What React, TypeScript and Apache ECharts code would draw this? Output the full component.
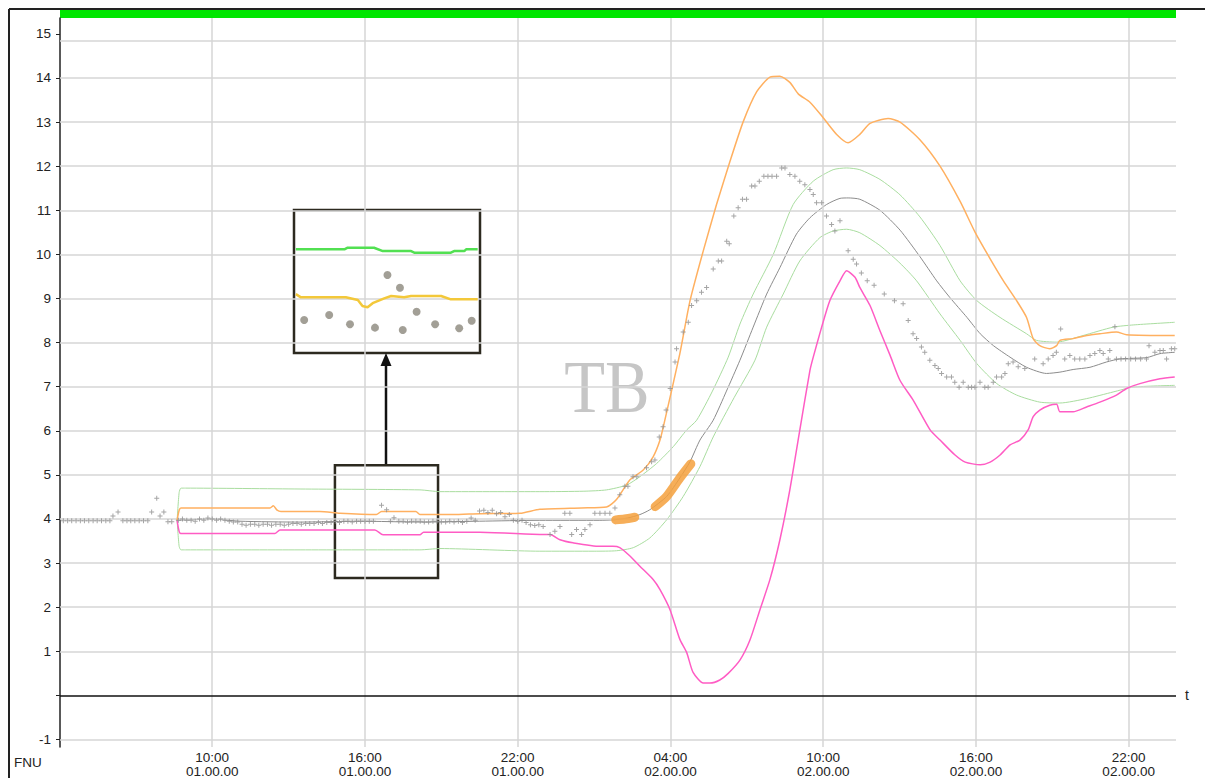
import React, { useEffect, useRef } from "react";
import * as echarts from "echarts";

// ---------- axes ----------
const X_MIN = 4.02; // hours since 00:00 of day 01
const X_MAX = 47.86;
const Y_MIN = -1.17;
const Y_MAX = 15.36;
const xTickHours = [10, 16, 22, 28, 34, 40, 46];
const yLabelValues = [-1, 1, 2, 3, 4, 5, 6, 7, 8, 9, 10, 11, 12, 13, 14, 15];
const yTickValues = [-1, 0, 1, 2, 3, 4, 5, 6, 7, 8, 9, 10, 11, 12, 13, 14, 15];
const yGridValues = [-1, 1, 2, 3, 4, 5, 6, 7, 8, 9, 10, 11, 12, 13, 14, 14.85];

// ---------- measured turbidity (dots) ----------
const dotsBefore: [number, number][] = [
  [4.15, 3.96], [4.32, 3.96], [4.48, 3.96], [4.65, 3.96], [4.82, 3.96], [4.98, 3.96],
  [5.15, 3.96], [5.32, 3.96], [5.48, 3.96], [5.65, 3.96], [5.82, 3.96], [5.98, 3.96],
  [6.1, 4.07], [6.3, 4.16], [6.49, 3.96], [6.65, 3.96], [6.8, 3.96], [6.96, 3.96],
  [7.13, 3.96], [7.3, 3.96], [7.47, 3.96], [7.62, 4.16], [7.82, 4.47], [7.95, 4.07],
  [8.1, 4.16], [8.26, 3.94], [8.41, 3.94],
];
const dotsNight: [number, number][] = [
  [8.67, 3.97], [8.83, 4.0], [9.0, 3.97], [9.17, 3.97], [9.33, 3.95], [9.5, 4.0],
  [9.67, 3.97], [9.83, 4.02], [10.0, 4.0], [10.17, 3.97], [10.33, 4.0], [10.5, 3.97],
  [10.67, 3.95], [10.83, 3.93], [11.0, 3.93], [11.17, 3.88], [11.33, 3.86], [11.5, 3.88],
  [11.67, 3.88], [11.83, 3.86], [12.0, 3.88], [12.17, 3.88], [12.33, 3.86], [12.5, 3.88],
  [12.67, 3.88], [12.83, 3.86], [13.0, 3.88], [13.17, 3.9], [13.33, 3.9], [13.5, 3.88],
  [13.67, 3.9], [13.83, 3.9], [14.0, 3.9], [14.17, 3.92], [14.33, 3.9], [14.5, 3.92],
  [14.67, 3.92], [14.83, 3.95], [15.0, 3.92], [15.17, 3.95], [15.33, 3.95], [15.5, 3.93],
  [15.67, 3.95], [15.83, 3.95], [16.0, 3.95], [16.17, 3.95], [16.33, 3.95], [16.65, 4.31],
  [16.85, 4.21], [17.0, 3.95], [17.14, 4.03], [17.33, 3.95], [17.5, 3.95], [17.67, 3.93],
  [17.83, 3.95], [18.0, 3.95], [18.17, 3.95], [18.33, 3.93], [18.5, 3.93], [18.67, 3.95],
  [18.83, 3.95], [19.0, 3.93], [19.17, 3.93], [19.33, 3.95], [19.5, 3.93], [19.67, 3.95],
  [19.83, 3.92], [20.0, 3.95], [20.17, 4.02], [20.33, 3.97], [20.5, 4.18], [20.67, 4.2],
  [20.83, 4.15], [21.0, 4.2], [21.17, 4.12], [21.33, 4.15], [21.5, 4.05], [21.67, 4.1],
  [21.83, 3.97], [22.0, 3.95], [22.17, 3.97], [22.33, 3.92], [22.5, 3.87], [22.67, 3.85],
  [22.83, 3.87],
];
const dotsEvent: [number, number][] = [
  [23.0, 3.83], [23.27, 3.65], [23.46, 3.72], [23.66, 3.83], [23.85, 4.13], [24.05, 4.13],
  [24.12, 3.65], [24.31, 3.76], [24.51, 3.65], [24.64, 3.76], [24.84, 3.87], [25.03, 4.13],
  [25.23, 4.13], [25.43, 4.13], [25.62, 4.13], [25.82, 4.25], [26.01, 4.55], [26.21, 4.74],
  [26.33, 4.74], [26.53, 4.96], [26.68, 4.96], [27.06, 5.16], [27.26, 5.3], [27.39, 5.34],
  [27.56, 5.86], [27.71, 6.09], [27.83, 6.47], [27.99, 6.96], [28.18, 7.56], [28.24, 7.86],
  [28.5, 8.24], [28.7, 8.46], [28.83, 8.84], [29.03, 8.95], [29.22, 9.14], [29.42, 9.25],
  [29.68, 9.67], [29.88, 9.85], [30.01, 9.85], [30.21, 10.3], [30.31, 10.24], [30.49, 10.87],
  [30.66, 11.06], [30.83, 11.25], [30.99, 11.25], [31.19, 11.55], [31.32, 11.55], [31.49, 11.66],
  [31.67, 11.77], [31.83, 11.77], [31.99, 11.77], [32.17, 11.77], [32.37, 11.96], [32.5, 11.96],
  [32.69, 11.81], [32.89, 11.77], [33.08, 11.66], [33.28, 11.58], [33.48, 11.47], [33.61, 11.36],
  [33.74, 11.17], [33.94, 11.17], [34.13, 10.87], [34.33, 10.68], [34.46, 10.53], [34.66, 10.76],
  [34.98, 10.08], [35.18, 9.89], [35.31, 9.78], [35.5, 9.58], [35.73, 9.4], [36.0, 9.3],
  [36.4, 9.1], [36.8, 8.95], [37.14, 8.88], [37.34, 8.5], [37.53, 8.2], [37.67, 8.09],
  [37.86, 7.9], [37.99, 7.78], [38.19, 7.6], [38.39, 7.48], [38.52, 7.41], [38.65, 7.3],
  [38.85, 7.22], [39.04, 7.22], [39.17, 7.1], [39.34, 6.99], [39.5, 7.1], [39.7, 6.99],
  [39.83, 6.99], [39.96, 6.99], [40.16, 7.1], [40.35, 6.99], [40.48, 6.99], [40.68, 7.1],
  [40.81, 7.22], [41.01, 7.22], [41.14, 7.3], [41.27, 7.52], [41.46, 7.56], [41.66, 7.45],
  [41.92, 7.41], [42.31, 7.63], [42.64, 7.52], [42.84, 7.63], [43.03, 7.71], [43.16, 7.78],
  [43.33, 8.31], [43.49, 7.63], [43.69, 7.71], [43.88, 7.63], [44.08, 7.63], [44.28, 7.63],
  [44.48, 7.71], [44.67, 7.75], [44.87, 7.82], [45.0, 7.75], [45.2, 7.63], [45.26, 7.82],
  [45.46, 8.36], [45.52, 7.63], [45.7, 7.63], [45.88, 7.63], [46.08, 7.63], [46.27, 7.63],
  [46.47, 7.63], [46.7, 7.63], [46.8, 7.93], [47.03, 7.78], [47.23, 7.82], [47.36, 7.82],
  [47.49, 7.63], [47.68, 7.86], [47.81, 7.86],
];

// ---------- model and bands ----------
const modelLine: [number, number][] = [
  [8.62, 3.97], [9.99, 4.0], [11.09, 3.95], [13.45, 3.93], [15.81, 3.95], [18.16, 3.93],
  [20.51, 3.95], [22.87, 3.97], [25.2, 3.97], [25.74, 3.98], [26.3, 4.02], [26.8, 4.1],
  [27.19, 4.21], [27.85, 4.51], [28.37, 4.93], [28.77, 5.3], [29.16, 5.79], [29.68, 6.24],
  [30.2, 6.9], [30.73, 7.6], [31.25, 8.35], [31.78, 9.1], [32.3, 9.7], [32.95, 10.46],
  [33.48, 10.83], [34.13, 11.13], [34.66, 11.27], [34.98, 11.28], [35.44, 11.25], [36.23, 11.0],
  [37.02, 10.55], [37.8, 9.95], [38.46, 9.4], [38.98, 9.02], [39.65, 8.57], [40.17, 8.2],
  [40.69, 7.93], [41.34, 7.67], [41.99, 7.44], [42.77, 7.3], [43.3, 7.33], [43.82, 7.39],
  [44.48, 7.44], [45.13, 7.56], [45.65, 7.63], [46.71, 7.66], [47.23, 7.75], [47.81, 7.78],
];
const upperBand: [number, number][] = [
  [8.62, 3.97], [8.7, 4.6], [8.77, 4.7], [8.95, 4.7], [13.45, 4.68], [18.16, 4.66],
  [18.94, 4.62], [22.87, 4.62], [24.6, 4.63], [25.49, 4.66], [26.28, 4.77], [26.8, 4.96],
  [27.46, 5.26], [28.11, 5.64], [28.64, 6.02], [29.03, 6.24], [29.65, 6.9], [30.27, 7.67],
  [30.73, 8.42], [31.25, 9.1], [32.04, 10.0], [32.82, 11.13], [33.61, 11.66], [34.39, 11.92],
  [34.92, 11.96], [35.44, 11.92], [36.23, 11.7], [37.02, 11.35], [37.8, 10.85], [38.59, 10.2],
  [39.38, 9.4], [40.04, 8.95], [40.95, 8.57], [41.99, 8.2], [42.38, 8.05], [43.17, 8.01],
  [44.21, 8.16], [45.39, 8.35], [46.18, 8.4], [47.81, 8.46],
];
const lowerBand: [number, number][] = [
  [8.62, 3.97], [8.7, 3.38], [8.77, 3.3], [8.95, 3.3], [13.45, 3.3], [18.16, 3.3],
  [18.94, 3.33], [22.87, 3.27], [25.0, 3.27], [25.88, 3.28], [26.54, 3.35], [27.19, 3.57],
  [27.85, 3.98], [28.5, 4.51], [29.16, 5.19], [29.68, 5.86], [30.5, 6.75], [31.32, 7.6],
  [31.78, 8.35], [32.43, 9.1], [33.08, 9.85], [33.87, 10.38], [34.39, 10.53], [34.92, 10.57],
  [35.44, 10.49], [36.23, 10.2], [37.02, 9.8], [37.67, 9.4], [38.59, 8.65], [39.38, 8.05],
  [40.04, 7.52], [40.82, 7.07], [41.6, 6.81], [42.51, 6.65], [43.3, 6.63], [44.35, 6.73],
  [45.39, 6.88], [46.18, 6.99], [47.81, 7.03],
];
const upperLimit: [number, number][] = [
  [8.62, 3.97], [8.7, 4.2], [8.77, 4.25], [8.95, 4.25], [12.27, 4.25], [12.4, 4.3],
  [12.55, 4.2], [12.7, 4.17], [14.23, 4.17], [15.02, 4.13], [16.45, 4.1], [16.65, 4.17],
  [18.0, 4.17], [18.16, 4.1], [19.46, 4.1], [20.51, 4.12], [22.09, 4.13], [22.87, 4.22],
  [24.5, 4.25], [25.49, 4.27], [25.88, 4.44], [26.41, 4.89], [26.93, 5.11], [27.32, 5.41],
  [27.59, 5.79], [27.78, 6.24], [28.37, 7.75], [28.77, 8.95], [29.29, 10.08], [29.81, 11.13],
  [30.34, 12.11], [30.86, 13.01], [31.39, 13.69], [31.91, 14.02], [32.3, 14.04], [32.69, 13.9],
  [33.02, 13.64], [33.48, 13.45], [34.0, 13.1], [34.53, 12.72], [34.98, 12.53], [35.44, 12.72],
  [35.84, 12.97], [36.55, 13.08], [37.02, 13.0], [37.8, 12.6], [38.59, 12.0], [39.38, 11.2],
  [39.97, 10.5], [40.56, 9.9], [41.08, 9.4], [41.6, 8.95], [41.99, 8.57], [42.25, 8.09],
  [42.51, 7.93], [42.9, 7.86], [43.17, 7.93], [43.3, 8.05], [43.82, 8.09], [44.35, 8.16],
  [44.87, 8.2], [45.52, 8.24], [45.92, 8.18], [47.81, 8.16],
];
const lowerLimit: [number, number][] = [
  [8.62, 3.97], [8.7, 3.72], [8.77, 3.67], [8.95, 3.67], [12.46, 3.67], [12.66, 3.75],
  [16.39, 3.75], [16.71, 3.64], [18.16, 3.64], [18.3, 3.7], [20.51, 3.7], [22.87, 3.65],
  [23.27, 3.65], [23.66, 3.53], [24.17, 3.46], [25.23, 3.38], [25.74, 3.38], [26.01, 3.35],
  [26.41, 3.16], [26.8, 2.93], [27.32, 2.63], [27.59, 2.4], [27.98, 1.95], [28.37, 1.27],
  [28.64, 0.97], [28.89, 0.52], [29.29, 0.28], [29.55, 0.28], [29.94, 0.35], [30.27, 0.5],
  [30.73, 0.8], [31.12, 1.25], [31.52, 1.95], [31.91, 2.63], [32.3, 3.53], [32.69, 4.66],
  [33.08, 6.01], [33.48, 7.37], [33.61, 7.67], [33.94, 8.35], [34.26, 8.95], [34.66, 9.4],
  [34.92, 9.63], [35.25, 9.48], [35.44, 9.25], [35.84, 8.84], [36.23, 8.27], [36.63, 7.71],
  [37.02, 7.14], [37.54, 6.69], [38.2, 6.02], [38.59, 5.79], [39.18, 5.45], [39.58, 5.29],
  [40.17, 5.23], [40.56, 5.29], [40.95, 5.45], [41.34, 5.68], [41.73, 5.79], [42.05, 6.02],
  [42.25, 6.32], [42.51, 6.47], [42.9, 6.58], [43.17, 6.6], [43.3, 6.43], [43.82, 6.43],
  [44.35, 6.54], [44.87, 6.65], [45.52, 6.81], [45.92, 6.96], [46.44, 7.07], [47.23, 7.18],
  [47.81, 7.22],
];
const highlightA: [number, number][] = [[25.85, 3.98], [26.2, 4.0], [26.6, 4.04]];
const highlightB: [number, number][] = [[27.4, 4.28], [27.85, 4.51], [28.37, 4.93], [28.8, 5.25]];

// ---------- magnified inset (hours / FNU of the boxed region) ----------
const zoomBox = { h0: 14.82, h1: 18.87, v0: 2.66, v1: 5.22 };
const insetRange = { h0: 14.82, h1: 18.84, v0: 3.53, v1: 5.11 };
const insetBand: [number, number][] = [
  [14.86, 4.675], [15.91, 4.675], [15.98, 4.693], [16.55, 4.693], [16.74, 4.656], [17.35, 4.656],
  [17.42, 4.638], [18.21, 4.638], [18.28, 4.656], [18.5, 4.656], [18.54, 4.675], [18.79, 4.675],
];
const insetLimit: [number, number][] = [
  [14.86, 4.18], [14.97, 4.145], [15.94, 4.145], [16.2, 4.116], [16.3, 4.05], [16.41, 4.035],
  [16.52, 4.08], [16.77, 4.134], [16.92, 4.16], [17.2, 4.145], [17.35, 4.16], [18.0, 4.16],
  [18.21, 4.123], [18.79, 4.123],
];
const insetDots: [number, number][] = [
  [15.04, 3.895], [15.58, 3.95], [16.03, 3.847], [16.57, 3.81], [16.84, 4.392], [17.11, 4.251],
  [17.17, 3.784], [17.47, 3.986], [17.87, 3.847], [18.39, 3.803], [18.66, 3.887],
];

const FONT = "'Liberation Sans', Arial, sans-serif";
const PLUS = "path://M2,0H3V2H5V3H3V5H2V3H0V2H2Z";

function xLabel(v: number): string {
  const h = Math.round(v);
  const hh = String(h % 24).padStart(2, "0");
  const day = h < 24 ? "01" : "02";
  return `${hh}:00\n${day}.00.00`;
}

export default function App() {
  const ref = useRef<HTMLDivElement>(null);
  useEffect(() => {
    if (!ref.current) return;
    const chart = echarts.init(ref.current, undefined, { renderer: "svg" });
    const line = (data: [number, number][], color: string, width: number, z: number, smooth = 0.22) => ({
      type: "line",
      data,
      xAxisIndex: 0,
      yAxisIndex: 0,
      showSymbol: false,
      symbol: "none",
      smooth,
      z,
      lineStyle: { color, width },
      silent: true,
    });
    const option: any = {
      animation: false,
      backgroundColor: "#ffffff",
      grid: [
        { left: 60, top: 18, width: 1116, height: 729, show: false, containLabel: false, outerBoundsMode: "none" },
        {
          left: 294, top: 210, width: 186, height: 143, show: true, containLabel: false, outerBoundsMode: "none",
          borderColor: "#2d2a20", borderWidth: 2.5, backgroundColor: "rgba(0,0,0,0)",
        },
      ],
      xAxis: [
        {
          gridIndex: 0, type: "value", min: X_MIN, max: X_MAX,
          axisLine: { show: false, onZero: false },
          axisTick: { show: false },
          splitLine: { show: false },
          axisLabel: {
            customValues: xTickHours, formatter: xLabel, fontSize: 13.5, lineHeight: 14,
            color: "#222", margin: 3, fontFamily: FONT,
          },
        },
        { gridIndex: 1, type: "value", min: insetRange.h0, max: insetRange.h1, show: false },
      ],
      yAxis: [
        {
          gridIndex: 0, type: "value", min: Y_MIN, max: Y_MAX,
          axisLine: { show: true, onZero: false, lineStyle: { color: "#222", width: 1.5 } },
          axisTick: { show: true, customValues: yTickValues, length: 4, lineStyle: { color: "#222", width: 1 } },
          axisLabel: { customValues: yLabelValues, fontSize: 13.5, color: "#222", margin: 9, fontFamily: FONT },
          splitLine: { show: false },
        },
        { gridIndex: 1, type: "value", min: insetRange.v0, max: insetRange.v1, show: false },
      ],
      series: [
        {
          type: "line", data: [], z: 1, silent: true,
          markLine: {
            silent: true, symbol: ["none", "none"], label: { show: false }, animation: false,
            lineStyle: { color: "#d6d6d6", width: 1.5, type: "solid" },
            data: [
              ...yGridValues.map((v) => ({ yAxis: v })),
              ...xTickHours.map((h) => ({ xAxis: h })),
            ],
          },
        },
        {
          type: "line", data: [], z: 2, silent: true,
          markLine: {
            silent: true, symbol: ["none", "none"], label: { show: false }, animation: false,
            lineStyle: { color: "#111", width: 1.5, type: "solid" },
            data: [{ yAxis: 0 }],
          },
        },
        line(upperBand, "#a9dd9f", 1, 3),
        line(lowerBand, "#a9dd9f", 1, 3),
        line(modelLine, "#8c8c8c", 1, 4),
        line(upperLimit, "#ffb060", 1.5, 5),
        line(lowerLimit, "#ff5cc4", 1.5, 5),
        {
          ...line(highlightA, "rgba(245,160,60,0.85)", 9, 6),
          lineStyle: { color: "rgba(245,160,60,0.85)", width: 9, cap: "round" },
        },
        {
          ...line(highlightB, "rgba(245,160,60,0.85)", 9, 6),
          lineStyle: { color: "rgba(245,160,60,0.85)", width: 9, cap: "round" },
        },
        {
          type: "scatter", xAxisIndex: 0, yAxisIndex: 0, z: 7, silent: true,
          data: [...dotsBefore, ...dotsNight, ...dotsEvent],
          symbol: PLUS, symbolSize: 5, itemStyle: { color: "#8e8e8e" },
        },
        {
          type: "line", data: [], z: 8, silent: true,
          markArea: {
            silent: true,
            itemStyle: { color: "rgba(0,0,0,0)", borderColor: "#2d2a20", borderWidth: 2.5 },
            data: [[{ coord: [zoomBox.h0, zoomBox.v1] }, { coord: [zoomBox.h1, zoomBox.v0] }]],
          },
        },
        {
          type: "line", xAxisIndex: 1, yAxisIndex: 1, data: insetBand, showSymbol: false, symbol: "none",
          lineStyle: { color: "#52e052", width: 2.5 }, z: 9, silent: true,
        },
        {
          type: "line", xAxisIndex: 1, yAxisIndex: 1, data: insetLimit, showSymbol: false, symbol: "none",
          lineStyle: { color: "#f3c83a", width: 2.5 }, z: 9, silent: true,
        },
        {
          type: "scatter", xAxisIndex: 1, yAxisIndex: 1, data: insetDots, symbol: "circle", symbolSize: 8,
          itemStyle: { color: "#8b877c" }, z: 10, silent: true,
        },
      ],
      graphic: [
        { type: "line", silent: true, shape: { x1: 9, y1: 9, x2: 1205, y2: 9 }, style: { stroke: "#222", lineWidth: 2 } },
        { type: "line", silent: true, shape: { x1: 9, y1: 9, x2: 9, y2: 778 }, style: { stroke: "#222", lineWidth: 2 } },
        { type: "rect", silent: true, shape: { x: 60, y: 10, width: 1116, height: 8 }, style: { fill: "#00e600" } },
        {
          type: "text", silent: true, x: 607, y: 387, scaleX: 0.89, z: 0,
          style: {
            text: "TB", fill: "#c6c6c6", fontSize: 75,
            fontFamily: "'Liberation Serif', 'Times New Roman', serif",
            align: "center", verticalAlign: "middle",
          },
        },
        {
          type: "text", silent: true, x: 14, y: 762,
          style: { text: "FNU", fill: "#222", fontSize: 13.5, fontFamily: FONT, align: "left", verticalAlign: "middle" },
        },
        {
          type: "text", silent: true, x: 1185, y: 695,
          style: { text: "t", fill: "#222", fontSize: 14, fontFamily: FONT, align: "left", verticalAlign: "middle" },
        },
        { type: "line", silent: true, shape: { x1: 386, y1: 464, x2: 386, y2: 362 }, style: { stroke: "#111", lineWidth: 2.5 } },
        {
          type: "polygon", silent: true,
          shape: { points: [[386, 353], [380.5, 366], [391.5, 366]] },
          style: { fill: "#111" },
        },
      ],
    };
    chart.setOption(option);
    return () => chart.dispose();
  }, []);
  return (
    <div
      ref={ref}
      style={{ position: "fixed", left: 0, top: 0, width: 1205, height: 778, background: "#fff" }}
    />
  );
}
